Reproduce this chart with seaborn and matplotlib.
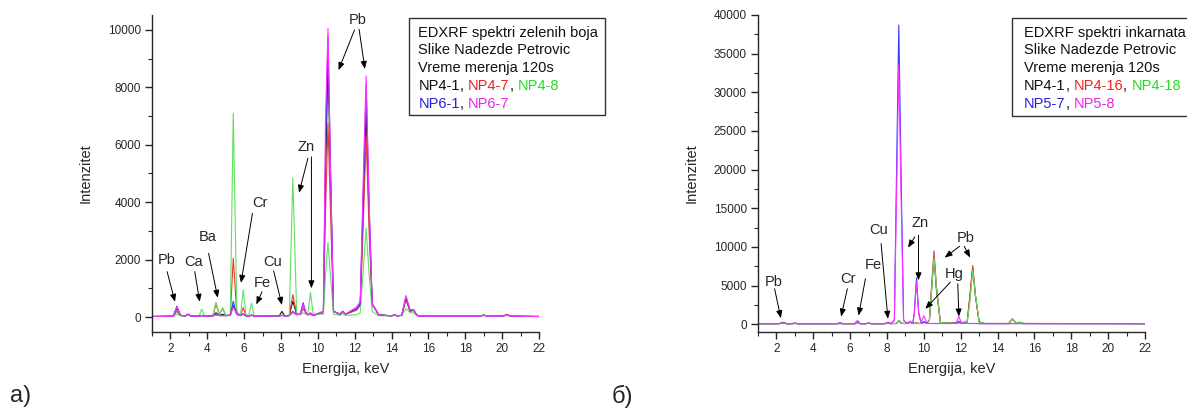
import numpy as np
import pandas as pd
import matplotlib
matplotlib.use("Agg")
import matplotlib.pyplot as plt
import matplotlib.text as mtext
import seaborn as sns
from matplotlib.patches import Rectangle
from matplotlib.ticker import MultipleLocator

# ---------------- data: panel a) (green paints) ----------------
energy_a = [1.0, 2.15, 2.35, 2.55, 2.8, 2.95, 3.1, 3.55, 3.7, 3.85, 4.3, 4.47, 4.65, 4.83, 5.0,
            5.25, 5.41, 5.6, 5.8, 5.95, 6.1, 6.25, 6.4, 6.55, 7.9, 8.05, 8.2, 8.45, 8.64, 8.85,
            9.05, 9.2, 9.35, 9.45, 9.6, 9.75, 10.3, 10.42, 10.55, 10.68, 10.85, 11.2, 11.35, 11.5,
            12.1, 12.3, 12.45, 12.62, 12.78, 12.95, 13.05, 13.3, 14.0, 14.15, 14.3, 14.55, 14.78,
            15.0, 15.2, 15.35, 15.5, 18.8, 19.0, 19.2, 20.05, 20.25, 20.45, 22.0]
np4_1_a = [20, 30, 300, 60, 40, 100, 40, 30, 60, 30, 40, 150, 60, 100, 50,
           60, 400, 100, 50, 100, 40, 30, 70, 30, 40, 200, 40, 50, 550, 100,
           100, 450, 150, 80, 100, 60, 150, 5000, 8900, 5000, 200, 100, 200, 100,
           250, 450, 3500, 7200, 3500, 450, 350, 80, 40, 80, 40, 60, 650,
           200, 250, 80, 30, 30, 70, 30, 30, 90, 30, 20]
np4_7_a = [20, 30, 200, 50, 40, 90, 40, 30, 60, 30, 40, 450, 100, 300, 60,
           80, 2050, 150, 60, 330, 50, 30, 80, 30, 40, 60, 40, 60, 780, 100,
           100, 300, 120, 80, 150, 60, 150, 3800, 6750, 3800, 200, 100, 180, 100,
           250, 400, 3000, 6300, 3000, 400, 350, 80, 40, 80, 40, 60, 600,
           200, 230, 80, 30, 30, 70, 30, 30, 90, 30, 20]
np4_8_a = [20, 30, 100, 40, 40, 80, 40, 30, 280, 30, 40, 520, 80, 330, 60,
           80, 7100, 200, 60, 950, 80, 50, 480, 50, 40, 60, 40, 60, 4850, 150,
           80, 150, 100, 100, 850, 100, 100, 1500, 2600, 1500, 100, 60, 120, 60,
           80, 150, 1500, 3100, 1500, 200, 150, 50, 40, 60, 40, 50, 300,
           150, 150, 60, 30, 30, 60, 30, 30, 70, 30, 20]
np6_1_a = [20, 30, 380, 60, 40, 100, 40, 30, 50, 30, 40, 80, 50, 50, 50,
           60, 550, 100, 50, 120, 40, 30, 60, 30, 40, 60, 40, 50, 200, 80,
           100, 500, 150, 80, 100, 60, 200, 6000, 9750, 5500, 200, 100, 200, 100,
           300, 450, 4000, 8100, 4000, 450, 350, 80, 40, 80, 40, 60, 700,
           250, 250, 80, 30, 30, 70, 30, 30, 90, 30, 20]
np6_7_a = [20, 30, 350, 60, 40, 100, 40, 30, 50, 30, 40, 80, 50, 50, 50,
           60, 350, 100, 50, 100, 40, 30, 60, 30, 40, 60, 40, 50, 150, 80,
           100, 450, 150, 80, 100, 60, 200, 7000, 10050, 5200, 200, 100, 200, 100,
           350, 550, 4500, 8400, 4000, 450, 350, 80, 40, 80, 40, 60, 750,
           250, 250, 80, 30, 30, 70, 30, 30, 90, 30, 20]
samples_a = ["NP4-1", "NP4-7", "NP4-8", "NP6-1", "NP6-7"]

# ---------------- data: panel b) (flesh tones) ----------------
energy_b = [1.0, 2.15, 2.35, 2.55, 2.85, 3.0, 3.15, 5.3, 5.45, 5.6, 6.25, 6.4, 6.55, 6.85, 7.0,
            7.15, 7.9, 8.05, 8.2, 8.4, 8.52, 8.64, 8.76, 8.9, 9.1, 9.25, 9.4, 9.48, 9.6, 9.72,
            9.85, 10.0, 10.15, 10.3, 10.42, 10.55, 10.68, 10.9, 11.5, 11.75, 11.9, 12.05, 12.35,
            12.5, 12.65, 12.8, 13.0, 13.3, 14.6, 14.8, 15.0, 15.2, 15.4, 22.0]
np4_1_b = [80, 80, 250, 80, 80, 150, 80, 80, 100, 80, 80, 150, 80, 80, 150,
           80, 80, 200, 80, 100, 100, 500, 150, 100, 100, 400, 100, 100, 200, 100,
           100, 250, 200, 500, 4500, 8800, 4500, 200, 150, 200, 300, 200, 300,
           3500, 7300, 3600, 300, 100, 100, 700, 200, 250, 100, 80]
np4_16_b = [80, 80, 250, 80, 80, 150, 80, 80, 100, 80, 80, 150, 80, 80, 150,
            80, 80, 200, 80, 100, 100, 500, 150, 100, 100, 300, 100, 100, 200, 100,
            100, 300, 200, 500, 5000, 9500, 5000, 200, 150, 200, 400, 200, 300,
            3800, 7600, 3800, 300, 100, 100, 650, 200, 250, 100, 80]
np4_18_b = [80, 80, 250, 80, 80, 150, 80, 80, 100, 80, 80, 150, 80, 80, 150,
            80, 80, 200, 80, 100, 100, 500, 150, 100, 100, 400, 100, 100, 200, 100,
            100, 200, 200, 500, 4500, 8600, 4800, 200, 150, 200, 250, 200, 300,
            3000, 7000, 3800, 300, 100, 100, 700, 200, 250, 100, 80]
np5_7_b = [80, 80, 150, 80, 80, 100, 80, 80, 200, 80, 80, 450, 80, 80, 120,
           80, 80, 250, 80, 500, 20000, 38700, 20000, 500, 100, 250, 100, 1500, 6000, 1500,
           200, 300, 150, 100, 100, 100, 100, 100, 100, 150, 200, 150, 100,
           100, 100, 100, 80, 80, 80, 100, 80, 100, 80, 80]
np5_8_b = [80, 80, 150, 80, 80, 100, 80, 80, 200, 80, 80, 450, 80, 80, 120,
           80, 80, 250, 80, 500, 17000, 33500, 17000, 500, 100, 250, 100, 1300, 5500, 1300,
           250, 1100, 200, 100, 100, 100, 100, 100, 100, 150, 1000, 150, 100,
           100, 100, 100, 80, 80, 80, 100, 80, 100, 80, 80]
samples_b = ["NP4-1", "NP4-16", "NP4-18", "NP5-7", "NP5-8"]

line_colors = ["#1a1a1a", "#e83a30", "#5fe05f", "#3a3aff", "#ff30ff"]
text_colors = ["#111111", "#ee2222", "#22dd22", "#2222dd", "#ee22ee"]

# ---------------- styling ----------------
sns.set_style("ticks")
plt.rcParams["font.family"] = ["Liberation Sans", "DejaVu Sans"]
plt.rcParams["axes.linewidth"] = 1.0

W, H = 1187, 409
fig = plt.figure(figsize=(W / 100, H / 100), dpi=100)


def px_axes(l, r, t, b):
    return fig.add_axes([l / W, 1 - b / H, (r - l) / W, (b - t) / H])


ax_a = px_axes(152, 539, 15, 332)
ax_b = px_axes(758, 1145, 15, 332)


def draw_panel(ax, energy, series, names, ylim, yticks, yminor):
    frames = []
    for name, vals in zip(names, series):
        frames.append(pd.DataFrame({"energy": energy, "intensity": vals, "sample": name}))
    df = pd.concat(frames, ignore_index=True)
    sns.lineplot(data=df, x="energy", y="intensity", hue="sample", hue_order=names,
                 palette=dict(zip(names, line_colors)), estimator=None, sort=False,
                 legend=False, lw=0.8, ax=ax)
    ax.set_xlim(1, 22)
    ax.set_ylim(*ylim)
    ax.set_xticks(np.arange(2, 23, 2))
    ax.set_yticks(yticks)
    ax.xaxis.set_minor_locator(MultipleLocator(1))
    ax.yaxis.set_minor_locator(MultipleLocator(yminor))
    ax.tick_params(which="major", direction="out", length=5, width=1.0, labelsize=8.5, pad=3)
    ax.tick_params(which="minor", direction="out", length=3, width=0.8)
    ax.set_xlabel("Energija, keV", fontsize=10.5, labelpad=5)
    ax.set_ylabel("Intenzitet", fontsize=10.5, labelpad=11)
    sns.despine(ax=ax)


draw_panel(ax_a, energy_a, [np4_1_a, np4_7_a, np4_8_a, np6_1_a, np6_7_a], samples_a,
           (-520, 10520), np.arange(0, 10001, 2000), 1000)
draw_panel(ax_b, energy_b, [np4_1_b, np4_16_b, np4_18_b, np5_7_b, np5_8_b], samples_b,
           (-1000, 40000), np.arange(0, 40001, 5000), 2500)

arrow_kw = dict(arrowstyle="-|>,head_length=0.45,head_width=0.18", lw=0.7, color="black",
                shrinkA=0, shrinkB=0)


def label(ax, text, tx, ty, arrows):
    ax.text(tx, ty, text, fontsize=10.5, ha="center", va="center")
    for (hx, hy, sx, sy) in arrows:
        ax.annotate("", xy=(hx, hy), xytext=(sx, sy), arrowprops=arrow_kw)


# panel a labels
label(ax_a, "Pb", 1.77, 1990, [(2.25, 530, 1.82, 1580)])
label(ax_a, "Ca", 3.28, 1930, [(3.59, 530, 3.32, 1580)])
label(ax_a, "Ba", 4.01, 2800, [(4.57, 670, 4.07, 2220)])
label(ax_a, "Cr", 6.87, 3960, [(5.83, 1190, 6.45, 3610)])
label(ax_a, "Fe", 6.97, 1200, [(6.66, 440, 6.97, 880)])
label(ax_a, "Cu", 7.53, 1930, [(8.05, 420, 7.6, 1610)])
label(ax_a, "Zn", 9.34, 5930, [(8.98, 4330, 9.46, 5530), (9.65, 1000, 9.65, 5580)])
label(ax_a, "Pb", 12.14, 10350, [(11.12, 8600, 11.99, 10000), (12.55, 8640, 12.24, 10020)])

# panel b labels
label(ax_b, "Pb", 1.85, 5450, [(2.24, 780, 1.9, 4600)])
label(ax_b, "Cr", 5.9, 5900, [(5.51, 1000, 5.85, 4600)])
label(ax_b, "Fe", 7.24, 7620, [(6.46, 1130, 6.83, 5900)])
label(ax_b, "Cu", 7.54, 12170, [(8.05, 700, 7.68, 10440)])
label(ax_b, "Zn", 9.77, 13040, [(9.14, 9920, 9.51, 11300), (9.71, 5680, 9.71, 11520)])
label(ax_b, "Pb", 12.25, 11220, [(11.13, 8620, 11.94, 10090), (12.51, 8620, 12.19, 10090)])
label(ax_b, "Hg", 11.64, 6450, [(10.08, 2000, 11.44, 5450), (11.9, 1000, 11.84, 5250)])

# ---------------- text boxes ----------------
lines_a = [[("EDXRF spektri zelenih boja", text_colors[0])],
           [("Slike Nadezde Petrovic", text_colors[0])],
           [("Vreme merenja 120s", text_colors[0])],
           [("NP4-1", text_colors[0]), (", ", text_colors[0]), ("NP4-7", text_colors[1]),
            (", ", text_colors[0]), ("NP4-8", text_colors[2])],
           [("NP6-1", text_colors[3]), (", ", text_colors[0]), ("NP6-7", text_colors[4])]]
lines_b = [[("EDXRF spektri inkarnata", text_colors[0])],
           [("Slike Nadezde Petrovic", text_colors[0])],
           [("Vreme merenja 120s", text_colors[0])],
           [("NP4-1", text_colors[0]), (", ", text_colors[0]), ("NP4-16", text_colors[1]),
            (", ", text_colors[0]), ("NP4-18", text_colors[2])],
           [("NP5-7", text_colors[3]), (", ", text_colors[0]), ("NP5-8", text_colors[4])]]


def chained_box(left, top, right, bottom, tleft, lines):
    fig.add_artist(Rectangle((left / W, 1 - bottom / H), (right - left) / W, (bottom - top) / H,
                             transform=fig.transFigure, facecolor="white",
                             edgecolor="#333333", lw=1.0, zorder=5))
    for i, pieces in enumerate(lines):
        y = 1 - (36.5 + i * 17.8) / H
        prev = None
        for s, c in pieces:
            if prev is None:
                prev = fig.text(tleft / W, y, s, color=c, fontsize=10.5, ha="left",
                                va="baseline", zorder=6)
            else:
                prev = fig.add_artist(mtext.Annotation(
                    s, xy=(1, 0), xycoords=prev, color=c, fontsize=10.5, ha="left",
                    va="bottom", zorder=6, annotation_clip=False))


chained_box(408.5, 18, 605, 115, 418.5, lines_a)
chained_box(1012, 18, 1200, 116, 1024, lines_b)

fig.text(10 / W, 1 - 396 / H, "a)", fontsize=17, ha="left", va="center")
fig.text(612 / W, 1 - 396 / H, "б)", fontsize=17, ha="left", va="center")

fig.savefig("out.png", dpi=100)
